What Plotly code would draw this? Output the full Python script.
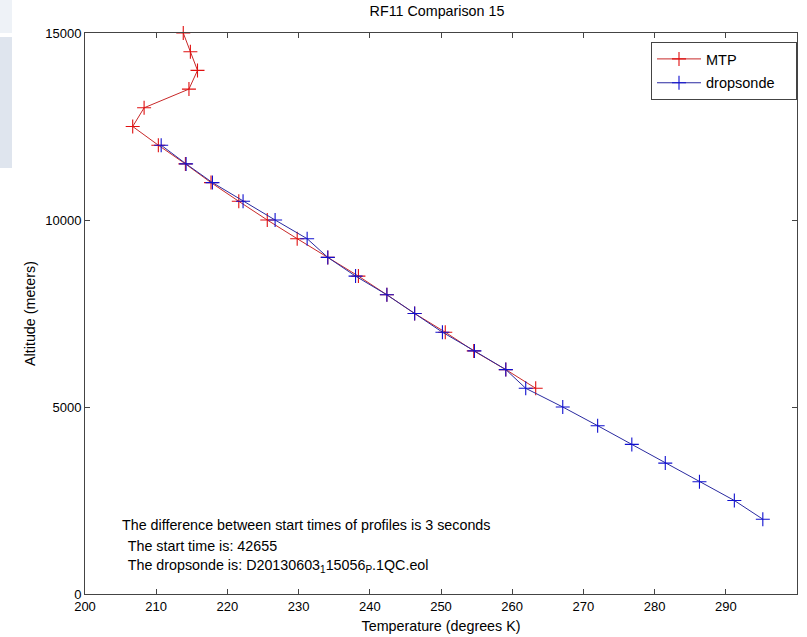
import plotly.graph_objects as go

# MTP profile (red)
mtp_temp = [213.8, 214.8, 215.8, 214.6, 208.3, 206.7, 210.3, 214.1, 217.7, 221.6,
            225.6, 229.8, 234.1, 238.4, 242.4, 246.3, 250.6, 254.6, 259.1, 263.3]
mtp_alt = [15000, 14500, 14000, 13500, 13000, 12500, 12000, 11500, 11000, 10500,
           10000, 9500, 9000, 8500, 8000, 7500, 7000, 6500, 6000, 5500]

# dropsonde profile (blue)
drop_temp = [210.7, 214.2, 217.9, 222.2, 226.7, 231.2, 234.1, 238.0, 242.4, 246.3,
             250.2, 254.7, 259.1, 261.9, 267.1, 272.0, 276.8, 281.5, 286.3, 291.2, 295.2]
drop_alt = [12000, 11500, 11000, 10500, 10000, 9500, 9000, 8500, 8000, 7500,
            7000, 6500, 6000, 5500, 5000, 4500, 4000, 3500, 3000, 2500, 2000]

x_ticks = [200, 210, 220, 230, 240, 250, 260, 270, 280, 290, 300]
y_ticks = [0, 5000, 10000, 15000]

info_lines = [
    "The difference between start times of profiles is 3 seconds",
    " The start time is: 42655",
    " The dropsonde is: D20130603<sub>1</sub>15056<sub>P</sub>.1QC.eol",
]
info_x = [204.9, 205.2, 205.2]
info_y = [1845, 1290, 760]

FONT = "Liberation Sans, Arial, Helvetica, sans-serif"
TXT = 14.3

fig = go.Figure()
fig.add_trace(go.Scatter(
    x=mtp_temp, y=mtp_alt, mode="lines+markers", name="MTP",
    legendgroup="a",
    line=dict(color="#c82828", width=1),
    marker=dict(symbol="cross-thin", size=10, line=dict(color="#e01010", width=1.1)),
    cliponaxis=False,
))
fig.add_trace(go.Scatter(
    x=drop_temp, y=drop_alt, mode="lines+markers", name="dropsonde" + "&nbsp;" * 4,
    legendgroup="b",
    line=dict(color="#2a2aa0", width=1),
    marker=dict(symbol="cross-thin", size=10, line=dict(color="#1010d0", width=1.1)),
    cliponaxis=False,
))

axis_common = dict(
    showgrid=False, zeroline=False, showline=True, mirror="ticks",
    linecolor="#444444", linewidth=1, ticks="inside", ticklen=5,
    tickcolor="#444444", tickwidth=1, tickformat="d", automargin=False,
    tickfont=dict(family=FONT, size=13, color="black"),
)

fig.update_layout(
    width=807, height=637,
    margin=dict(l=85, r=10, t=33, b=43),
    paper_bgcolor="white", plot_bgcolor="white",
    title=dict(text="RF11 Comparison 15", x=437 / 807, xanchor="center",
               y=1 - 11 / 637, yanchor="middle",
               font=dict(family=FONT, size=TXT, color="black")),
    xaxis=dict(range=[200, 300], tickvals=x_ticks,
               title=dict(text="Temperature (degrees K)", standoff=8,
                          font=dict(family=FONT, size=TXT, color="black")),
               **axis_common),
    yaxis=dict(range=[0, 15000], tickvals=y_ticks,
               title=dict(text="Altitude (meters)", standoff=6,
                          font=dict(family=FONT, size=TXT, color="black")),
               **axis_common),
    showlegend=True,
    legend=dict(x=1.0, xanchor="right", y=0.984, yanchor="top",
                bordercolor="#444444", borderwidth=1, bgcolor="white",
                font=dict(family=FONT, size=14.5, color="black"),
                tracegroupgap=2, itemwidth=44),
    shapes=[
        dict(type="rect", xref="paper", yref="paper", x0=-0.1194, x1=-0.1025,
             y0=1.0, y1=1.0588, fillcolor="#eef2f7", line=dict(width=0), layer="below"),
        dict(type="rect", xref="paper", yref="paper", x0=-0.1194, x1=-0.1025,
             y0=0.7594, y1=0.9929, fillcolor="#dfe5ee", line=dict(width=0), layer="below"),
    ],
)

for txt, xv, yv in zip(info_lines, info_x, info_y):
    fig.add_annotation(x=xv, y=yv, xref="x", yref="y", text=txt, showarrow=False,
                       xanchor="left", yanchor="middle",
                       font=dict(family=FONT, size=TXT, color="black"))

fig.write_html("out.html")
